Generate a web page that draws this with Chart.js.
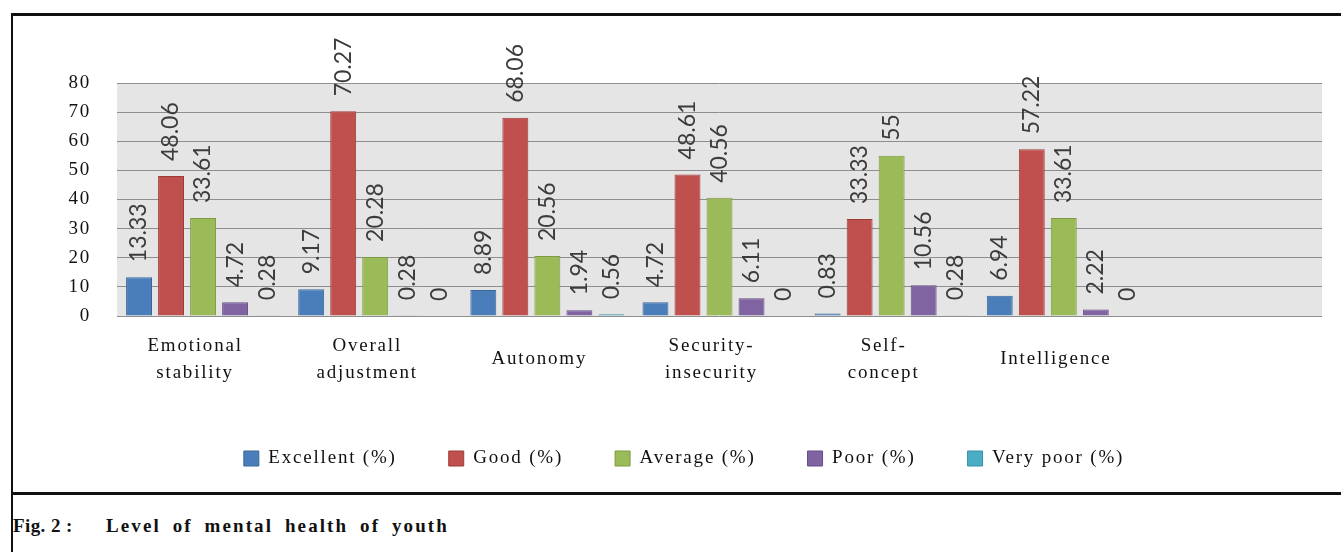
<!DOCTYPE html>
<html lang="en">
<head>
    <meta charset="UTF-8">
    <title>Fig. 2 - Level of mental health of youth</title>
    <script src="https://cdn.jsdelivr.net/npm/chart.js"></script>
    <style>
        html, body {
            margin: 0;
            padding: 0;
            background: #fff;
            width: 1341px;
            height: 552px;
            overflow: hidden;
        }
        .frame {
            position: absolute;
            left: 11px;
            top: 13px;
            width: 1340px;
            height: 476px;
            border-left: 2px solid #111;
            border-top: 3px solid #111;
            border-bottom: 3px solid #111;
        }
        .frame-low {
            position: absolute;
            left: 11px;
            top: 492px;
            width: 2px;
            height: 60px;
            background: #111;
        }
        #chartBox {
            position: absolute;
            left: 0;
            top: 0;
            width: 1341px;
            height: 490px;
        }
        .caption {
            position: absolute;
            top: 515px;
            font-family: "Liberation Serif", serif;
            font-weight: bold;
            font-size: 19px;
            color: #111;
            white-space: pre;
        }
    </style>
</head>
<body>
    <div class="frame"></div>
    <div class="frame-low"></div>
    <div id="chartBox"><canvas id="mentalHealthChart"></canvas></div>
    <div class="caption" style="left:13px; letter-spacing:0.4px;">Fig. 2 :</div>
    <div class="caption" style="left:106px; letter-spacing:2.1px; word-spacing:5px;">Level of mental health of youth</div>

    <script>
        // categories (last slot is empty in the original figure)
        const categories = [
            ['Emotional', 'stability'],
            ['Overall', 'adjustment'],
            'Autonomy',
            ['Security-', 'insecurity'],
            ['Self-', 'concept'],
            'Intelligence',
            ''
        ];
        const seriesNames = ['Excellent (%)', 'Good (%)', 'Average (%)', 'Poor (%)', 'Very poor (%)'];
        const excellent = [13.33, 9.17, 8.89, 4.72, 0.83, 6.94];
        const good = [48.06, 70.27, 68.06, 48.61, 33.33, 57.22];
        const average = [33.61, 20.28, 20.56, 40.56, 55, 33.61];
        const poor = [4.72, 0.28, 1.94, 6.11, 10.56, 2.22];
        const veryPoor = [0.28, 0, 0.56, 0, 0.28, 0];
        const yTicks = [0, 10, 20, 30, 40, 50, 60, 70, 80];

        const fills = ['#4a7ebb', '#c0504d', '#9bbb59', '#8064a2', '#4bacc6'];
        const edges = ['#3b6797', '#9e3b38', '#7d9a45', '#654d85', '#3a8ea5'];

        const serif = '"Liberation Serif", "Times New Roman", serif';

        // spaced-out serif text like the scanned figure
        const spacing = {
            id: 'spacing',
            beforeLayout(chart) { chart.ctx.letterSpacing = '1.8px'; },
            beforeDraw(chart) { chart.ctx.letterSpacing = '1.8px'; }
        };

        // grey plot area
        const plotBg = {
            id: 'plotBg',
            beforeDraw(chart) {
                const a = chart.chartArea;
                const ctx = chart.ctx;
                ctx.save();
                ctx.fillStyle = '#e5e5e5';
                ctx.fillRect(a.left, a.top, a.right - a.left, a.bottom - a.top);
                ctx.restore();
            }
        };

        // vertical value labels above each bar
        const valueLabels = {
            id: 'valueLabels',
            afterDatasetsDraw(chart) {
                const ctx = chart.ctx;
                ctx.save();
                ctx.letterSpacing = '0px';
                ctx.font = '23px Lato, "Open Sans", sans-serif';
                ctx.fillStyle = '#3c3c3c';
                ctx.textAlign = 'left';
                ctx.textBaseline = 'middle';
                chart.data.datasets.forEach((ds, i) => {
                    const meta = chart.getDatasetMeta(i);
                    meta.data.forEach((bar, j) => {
                        const v = ds.data[j];
                        if (v === null || v === undefined) return;
                        ctx.save();
                        ctx.translate(bar.x, bar.y - 15);
                        ctx.rotate(-Math.PI / 2);
                        ctx.fillText(String(v), 0, 0);
                        ctx.restore();
                    });
                });
                ctx.restore();
            }
        };

        const allSeries = [excellent, good, average, poor, veryPoor];

        new Chart(document.getElementById('mentalHealthChart'), {
            type: 'bar',
            data: {
                labels: categories,
                datasets: allSeries.map((vals, i) => ({
                    label: seriesNames[i],
                    data: vals,
                    backgroundColor: fills[i],
                    borderColor: edges[i],
                    borderWidth: 1,
                    categoryPercentage: 0.93,
                    barPercentage: 0.81
                }))
            },
            options: {
                responsive: true,
                maintainAspectRatio: false,
                animation: false,
                layout: {
                    padding: { left: 46, right: 19, top: 83, bottom: 12 }
                },
                plugins: {
                    legend: {
                        position: 'bottom',
                        labels: {
                            boxWidth: 15,
                            boxHeight: 15,
                            padding: 52,
                            color: '#111',
                            font: { family: serif, size: 19 }
                        }
                    },
                    tooltip: { enabled: false }
                },
                scales: {
                    x: {
                        grid: { display: false, drawTicks: false },
                        border: { display: false },
                        ticks: {
                            color: '#111',
                            padding: 30,
                            labelOffset: -8,
                            crossAlign: 'center',
                            maxRotation: 0,
                            autoSkip: false,
                            font: { family: serif, size: 19, lineHeight: 1.4 }
                        },
                        afterFit(scale) { scale.height = 81; }
                    },
                    y: {
                        min: 0,
                        max: 80,
                        afterBuildTicks(scale) {
                            scale.ticks = yTicks.map(v => ({ value: v }));
                        },
                        grid: { color: '#8e8e8e', lineWidth: 1, drawTicks: false },
                        border: { display: false },
                        ticks: {
                            color: '#111',
                            padding: 26,
                            autoSkip: false,
                            font: { family: serif, size: 19 }
                        },
                        afterFit(scale) { scale.width = 71; }
                    }
                }
            },
            plugins: [spacing, plotBg, valueLabels]
        });
    </script>
</body>
</html>
